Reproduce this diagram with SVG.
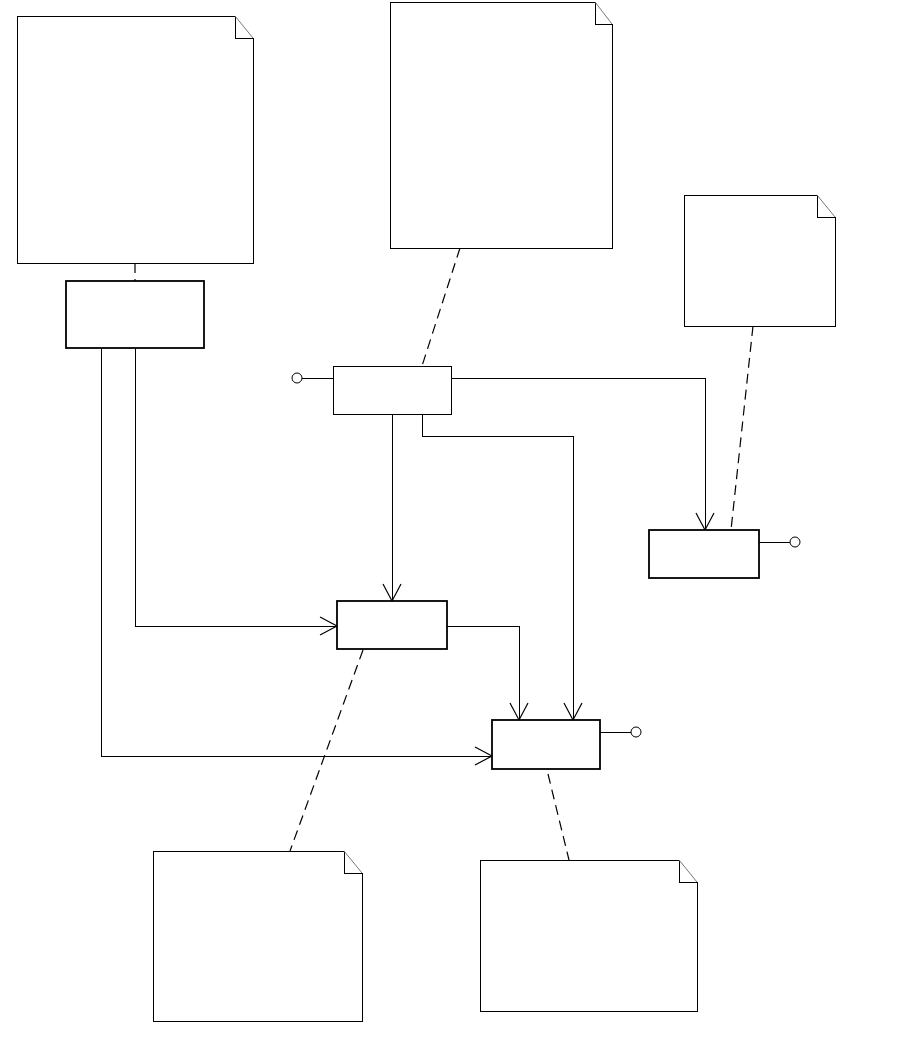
<svg xmlns="http://www.w3.org/2000/svg" width="903" height="1042" viewBox="0 0 903 1042">
<style>
.nfill{fill:#fff;stroke:none}
.nline{fill:none;stroke:#000;stroke-width:1;shape-rendering:crispEdges}
.diag{stroke:#777;stroke-width:1}
.box{fill:#fff;stroke:#000;stroke-width:1.8}
.thin{fill:#fff;stroke:#000;stroke-width:1;shape-rendering:crispEdges}
.con{fill:none;stroke:#000;stroke-width:1;shape-rendering:crispEdges}
.dash{fill:none;stroke:#000;stroke-width:1.2;stroke-dasharray:10,6}
.lol{fill:#fff;stroke:#000;stroke-width:1}
</style>
<defs>
<marker id="arr" markerUnits="userSpaceOnUse" markerWidth="40" markerHeight="40" refX="0" refY="0" viewBox="-20 -20 40 40" orient="auto" overflow="visible">
<path d="M-17,-9 L0,0 L-17,9" fill="none" stroke="#000" stroke-width="1.2"/>
</marker>
</defs>
<rect width="903" height="1042" fill="#fff"/>
<g id="connectors">
<path class="dash" d="M135,263 L135,281"/>
<path class="dash" d="M460,248 L422,366"/>
<path class="dash" d="M753,326 L731,530"/>
<path class="dash" d="M363,650 L290,851"/>
<path class="dash" d="M548,774 L569,860"/>
<path class="con" d="M101,348 L101,756 L492,756" marker-end="url(#arr)"/>
<path class="con" d="M135,348 L135,626 L337,626" marker-end="url(#arr)"/>
<path class="con" d="M451,378 L705,378 L705,530" marker-end="url(#arr)"/>
<path class="con" d="M392,414 L392,601" marker-end="url(#arr)"/>
<path class="con" d="M422,414 L422,436 L573,436 L573,720" marker-end="url(#arr)"/>
<path class="con" d="M447,626 L519,626 L519,720" marker-end="url(#arr)"/>
</g>
<g id="note1">
<path class="nfill" d="M17,16 L235,16 L253,38 L253,263 L17,263 Z"/>
<path class="nline" d="M235,16 L17,16 L17,263 L253,263 L253,38 M235,16 L235,38 L253,38"/>
<line class="diag" x1="235" y1="16" x2="253" y2="38"/>
</g>
<g id="note2">
<path class="nfill" d="M390,2 L595,2 L612,24 L612,248 L390,248 Z"/>
<path class="nline" d="M595,2 L390,2 L390,248 L612,248 L612,24 M595,2 L595,24 L612,24"/>
<line class="diag" x1="595" y1="2" x2="612" y2="24"/>
</g>
<g id="note3">
<path class="nfill" d="M684,195 L817,195 L835,217 L835,326 L684,326 Z"/>
<path class="nline" d="M817,195 L684,195 L684,326 L835,326 L835,217 M817,195 L817,217 L835,217"/>
<line class="diag" x1="817" y1="195" x2="835" y2="217"/>
</g>
<g id="note4">
<path class="nfill" d="M153,851 L344,851 L362,873 L362,1021 L153,1021 Z"/>
<path class="nline" d="M344,851 L153,851 L153,1021 L362,1021 L362,873 M344,851 L344,873 L362,873"/>
<line class="diag" x1="344" y1="851" x2="362" y2="873"/>
</g>
<g id="note5">
<path class="nfill" d="M480,860 L679,860 L697,882 L697,1011 L480,1011 Z"/>
<path class="nline" d="M679,860 L480,860 L480,1011 L697,1011 L697,882 M679,860 L679,882 L697,882"/>
<line class="diag" x1="679" y1="860" x2="697" y2="882"/>
</g>
<g id="boxA">
<rect class="box" x="66" y="281" width="138" height="67"/>
</g>
<g id="boxB">
<rect class="thin" x="333" y="366" width="118" height="48"/>
<line class="con" x1="302" y1="378" x2="333" y2="378"/>
<circle class="lol" cx="297" cy="378" r="5"/>
</g>
<g id="boxC">
<rect class="box" x="337" y="601" width="110" height="48"/>
</g>
<g id="boxD">
<rect class="box" x="649" y="530" width="110" height="48"/>
<line class="con" x1="759" y1="542" x2="790" y2="542"/>
<circle class="lol" cx="795" cy="542" r="5"/>
</g>
<g id="boxE">
<rect class="box" x="492" y="720" width="108" height="49"/>
<line class="con" x1="600" y1="732" x2="631" y2="732"/>
<circle class="lol" cx="636" cy="732" r="5"/>
</g>
</svg>
